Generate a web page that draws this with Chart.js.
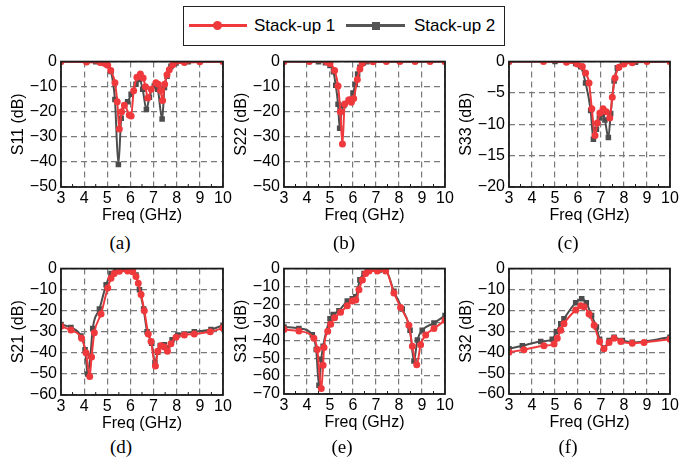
<!DOCTYPE html>
<html>
<head>
<meta charset="utf-8">
<script src="https://cdn.jsdelivr.net/npm/chart.js@4.4.1/dist/chart.umd.min.js"></script>
<style>
  body { margin: 0; width: 694px; height: 458px; background: #fff; position: relative; overflow: hidden; font-family: "Liberation Sans", Arial, sans-serif; }
  canvas { position: absolute; }
  .cap { position: absolute; font-family: "Liberation Serif", "Times New Roman", serif; font-size: 19px; line-height: 20px; transform: translateX(-50%); color: #000; }
  #legend { position: absolute; left: 183px; top: 6px; width: 322px; height: 40px; border: 1.5px solid #222; box-sizing: border-box; }
  #legend span { position: absolute; }
  #legend .ln { height: 3px; top: 17px; }
  #legend .txt { top: 0; line-height: 37px; font-size: 17px; color: #000; white-space: nowrap; }
</style>
</head>
<body>
<div id="legend">
  <span class="ln" style="left:5px;width:58px;background:#f0393c"></span>
  <span style="left:29px;top:14px;width:9px;height:9px;border-radius:50%;background:#f0393c"></span>
  <span class="txt" style="left:70px">Stack-up 1</span>
  <span class="ln" style="left:162px;width:59px;background:#555"></span>
  <span style="left:188px;top:14.5px;width:8px;height:8px;background:#555"></span>
  <span class="txt" style="left:230px">Stack-up 2</span>
</div>
<script>
// x axis (GHz) and y tick labels (dB)
const freqTicks = [3, 4, 5, 6, 7, 8, 9, 10];
const ticksS11 = [-50, -40, -30, -20, -10, 0];
const ticksS22 = [-50, -40, -30, -20, -10, 0];
const ticksS33 = [-20, -15, -10, -5, 0];
const ticksS21 = [-60, -50, -40, -30, -20, -10, 0];
const ticksS31 = [-70, -60, -50, -40, -30, -20, -10, 0];
const ticksS32 = [-60, -50, -40, -30, -20, -10, 0];

// [freq, dB]
const s11Stack1 = [[3,0],[4.1,-0.2],[4.7,-0.4],[4.9,-0.8],[5.02,-1.5],[5.15,-3.5],[5.33,-8.4],[5.43,-16],[5.52,-26.9],[5.62,-20],[5.74,-17.4],[5.95,-21.3],[6.03,-21.7],[6.14,-11.6],[6.28,-6.2],[6.43,-4.9],[6.55,-6.5],[6.65,-10],[6.75,-14.5],[6.9,-11],[7.1,-8.4],[7.2,-9],[7.3,-11.5],[7.39,-15.5],[7.48,-9],[7.58,-5.2],[7.68,-3.2],[7.83,-1.3],[8.33,-0.4],[9,-0.1],[10,0]];
const s11Stack2 = [[3,0],[4.5,-0.1],[4.85,-0.6],[5.0,-1.2],[5.16,-3.9],[5.33,-15.1],[5.48,-41],[5.6,-22.6],[5.74,-17.5],[5.88,-16],[6.03,-13],[6.24,-9],[6.39,-7.1],[6.53,-11],[6.69,-19.1],[6.82,-14.2],[7.03,-9.7],[7.18,-11],[7.37,-22.9],[7.47,-10.3],[7.58,-5.8],[7.75,-1.9],[7.97,-0.6],[8.5,-0.1],[10,0]];

const s22Stack1 = [[3,0],[4.1,0],[4.85,-0.1],[5.0,-0.8],[5.2,-3.5],[5.35,-9.7],[5.45,-20],[5.54,-32.9],[5.64,-16.9],[5.83,-15.2],[5.93,-16.2],[6.03,-14.7],[6.19,-7.1],[6.3,-3],[6.4,-0.8],[6.87,-0.1],[7.45,0],[8.04,0],[8.7,0],[9.35,0],[10,0]];
const s22Stack2 = [[3,0],[4.5,-0.1],[4.8,-0.5],[5.0,-1.5],[5.15,-4],[5.25,-9.4],[5.35,-17],[5.42,-26.6],[5.5,-20],[5.6,-17.5],[5.8,-15.5],[6.0,-12.5],[6.1,-9],[6.2,-5],[6.3,-2.3],[6.45,-0.5],[6.6,-0.1],[10,0]];

const s33Stack1 = [[3,0],[4.5,0],[5.5,-0.1],[5.97,-0.4],[6.19,-0.8],[6.33,-1.8],[6.48,-3.4],[6.6,-7.5],[6.74,-11.8],[6.84,-9.8],[6.95,-8.2],[7.09,-7.5],[7.23,-8],[7.38,-9],[7.49,-5.7],[7.61,-2.6],[7.78,-0.9],[8.0,-0.4],[8.36,-0.2],[9,0],[10,0]];
const s33Stack2 = [[3,0],[5,0],[5.9,-0.3],[6.12,-0.8],[6.33,-3.4],[6.55,-7.8],[6.67,-12.4],[6.8,-10.8],[6.93,-9],[7.06,-8.4],[7.17,-9.3],[7.32,-12.1],[7.42,-8.3],[7.57,-3.1],[7.71,-1],[7.93,-0.4],[8.5,-0.1],[10,0]];

const s21Stack1 = [[3,-27.4],[3.43,-29.2],[3.89,-33.1],[4.08,-40],[4.24,-51.2],[4.32,-42],[4.44,-30.5],[4.73,-21.5],[5.02,-9.2],[5.16,-4.6],[5.3,-2.3],[5.52,-1.2],[5.88,-1.1],[6.1,-1.5],[6.24,-3.8],[6.34,-6.9],[6.46,-12.3],[6.6,-20],[6.77,-31],[6.89,-34.6],[7.08,-46.2],[7.18,-39.2],[7.32,-36.6],[7.46,-37.2],[7.6,-39.2],[7.75,-35.7],[7.97,-32.6],[8.33,-31.5],[8.76,-31],[9.45,-30],[10,-28.2]];
const s21Stack2 = [[3,-26.5],[3.43,-28],[3.86,-32],[4.04,-38.5],[4.15,-50],[4.27,-41.5],[4.37,-28.5],[4.66,-19.2],[4.95,-7.7],[5.16,-2.3],[5.38,-0.8],[5.88,-0.6],[6.1,-1.2],[6.24,-3.1],[6.39,-10],[6.57,-19.2],[6.72,-30],[6.92,-35.4],[7.06,-44.6],[7.18,-39.7],[7.29,-36.5],[7.46,-36.2],[7.6,-37.7],[7.8,-33.8],[8.04,-31.5],[8.76,-30],[9.48,-28.9],[10,-26.9]];

const s31Stack1 = [[3,-34],[3.65,-34.9],[4.3,-38.9],[4.45,-45.2],[4.62,-66.9],[4.7,-54],[4.74,-44],[4.9,-35],[5.03,-31],[5.2,-27.5],[5.46,-24.4],[5.75,-20.8],[5.97,-18.1],[6.12,-17.5],[6.26,-11.8],[6.41,-6.3],[6.55,-2.7],[6.7,-1.4],[7.06,-1.4],[7.42,-1.4],[7.78,-13.6],[8.07,-21.7],[8.43,-31.6],[8.58,-43.4],[8.77,-53.7],[8.94,-42.5],[9.16,-37],[9.52,-33.5],[10,-28.9]];
const s31Stack2 = [[3,-32.6],[3.65,-33.4],[4.23,-37],[4.4,-45.2],[4.52,-65.1],[4.62,-50.6],[4.7,-43.4],[5,-28],[5.14,-25.7],[5.39,-23.5],[5.75,-18.1],[5.97,-16.8],[6.12,-15.7],[6.3,-6.3],[6.48,-2.7],[6.65,-0.9],[7.13,-0.9],[7.42,-1.1],[7.78,-12.7],[8.14,-22.6],[8.48,-34.4],[8.65,-51.6],[8.8,-39.8],[9.01,-34.4],[9.52,-30.4],[10,-26.2]];

const s32Stack1 = [[3,-40],[3.65,-38.8],[4.52,-36.9],[4.96,-36.1],[5.1,-33.3],[5.25,-29.5],[5.39,-26.4],[5.9,-19.8],[6.12,-17.8],[6.26,-18.3],[6.48,-21.7],[6.7,-27.1],[6.94,-34.9],[7.13,-38.4],[7.35,-35.3],[7.57,-33.3],[7.86,-34.9],[8.36,-35.7],[8.87,-35.3],[10,-33.8]];
const s32Stack2 = [[3,-38.4],[3.58,-36.9],[4.38,-34.9],[4.88,-33.8],[5.06,-30.2],[5.25,-26.4],[5.39,-24],[5.9,-16.3],[6.16,-14.4],[6.36,-16.3],[6.59,-22.5],[6.8,-27.9],[6.94,-33.8],[7.13,-38],[7.35,-34.4],[7.57,-32.9],[7.93,-34.4],[8.36,-35.3],[10,-32.9]];

const RED = '#f0393c';
const GRAY = '#4d4d4d';
const YW = 54, PT = 10, PR = 12, XH = 40;

// frame round the plot area plus small inward ticks on the freq axis
const framePlugin = {
  id: 'frame',
  afterDraw(chart) {
    const ctx = chart.ctx, a = chart.chartArea, xs = chart.scales.x;
    ctx.save();
    ctx.strokeStyle = '#1a1a1a';
    ctx.lineWidth = 1;
    for (let i = 0; i < freqTicks.length - 1; i++) {
      const mx = xs.getPixelForValue((freqTicks[i] + freqTicks[i + 1]) / 2);
      ctx.beginPath();
      ctx.moveTo(mx, a.bottom);
      ctx.lineTo(mx, a.bottom - 3);
      ctx.stroke();
    }
    ctx.lineWidth = 1.8;
    ctx.strokeRect(a.left, a.top, a.right - a.left, a.bottom - a.top);
    ctx.restore();
  }
};

function makePanel(box, yTicks, yTitle, stack1, stack2) {
  const [px, py, pw, ph] = box;
  const W = YW + pw + PR, H = PT + ph + XH;
  const cv = document.createElement('canvas');
  cv.width = W; cv.height = H;
  cv.style.left = (px - YW) + 'px';
  cv.style.top = (py - PT) + 'px';
  cv.style.width = W + 'px';
  cv.style.height = H + 'px';
  document.body.appendChild(cv);

  const axisFont = { family: '"Liberation Sans", Arial, sans-serif', size: 16 };
  new Chart(cv, {
    type: 'line',
    data: {
      datasets: [
        { label: 'Stack-up 1', data: stack1.map(p => ({ x: p[0], y: p[1] })), borderColor: RED, backgroundColor: RED,
          borderWidth: 2, pointStyle: 'circle', pointRadius: 2.5, cubicInterpolationMode: 'monotone' },
        { label: 'Stack-up 2', data: stack2.map(p => ({ x: p[0], y: p[1] })), borderColor: GRAY, backgroundColor: GRAY,
          borderWidth: 2, pointStyle: 'rect', pointRadius: 2.5, cubicInterpolationMode: 'monotone' }
      ]
    },
    options: {
      responsive: false,
      animation: false,
      devicePixelRatio: 1,
      layout: { padding: { top: PT, right: PR, left: 0, bottom: 0 } },
      plugins: { legend: { display: false }, tooltip: { enabled: false } },
      scales: {
        x: {
          type: 'linear', min: freqTicks[0], max: freqTicks[freqTicks.length - 1],
          afterBuildTicks: s => { s.ticks = freqTicks.map(v => ({ value: v })); },
          afterFit: s => { s.height = XH; },
          ticks: { font: axisFont, color: '#000', padding: 2, maxRotation: 0, autoSkip: false },
          grid: { color: '#7a7a7a', lineWidth: 1.2, drawTicks: false },
          border: { display: false, dash: [6, 4] },
          title: { display: true, text: 'Freq (GHz)', font: axisFont, color: '#000', padding: { top: 0, bottom: 2 } }
        },
        y: {
          min: yTicks[0], max: yTicks[yTicks.length - 1],
          afterBuildTicks: s => { s.ticks = yTicks.map(v => ({ value: v })); },
          afterFit: s => { s.width = YW; },
          ticks: { font: axisFont, color: '#000', padding: 4, autoSkip: false, callback: v => String(v).replace('-', '\u2212') },
          grid: { color: '#7a7a7a', lineWidth: 1.2, drawTicks: false },
          border: { display: false, dash: [6, 4] },
          title: { display: true, text: yTitle, font: axisFont, color: '#000', padding: { top: 2, bottom: 0 } }
        }
      }
    },
    plugins: [framePlugin]
  });
}

function caption(text, cx, top) {
  const d = document.createElement('div');
  d.className = 'cap';
  d.textContent = text;
  d.style.left = cx + 'px';
  d.style.top = top + 'px';
  document.body.appendChild(d);
}

makePanel([61, 58, 162, 129], ticksS11, 'S11 (dB)', s11Stack1, s11Stack2);
makePanel([284, 58, 161, 129], ticksS22, 'S22 (dB)', s22Stack1, s22Stack2);
makePanel([509, 58, 161, 129], ticksS33, 'S33 (dB)', s33Stack1, s33Stack2);
makePanel([61, 265, 162, 130], ticksS21, 'S21 (dB)', s21Stack1, s21Stack2);
makePanel([284, 265, 161, 129], ticksS31, 'S31 (dB)', s31Stack1, s31Stack2);
makePanel([509, 265, 161, 129], ticksS32, 'S32 (dB)', s32Stack1, s32Stack2);

caption('(a)', 120, 233);
caption('(b)', 344, 233);
caption('(c)', 568, 233);
caption('(d)', 121, 437);
caption('(e)', 342, 437);
caption('(f)', 568, 437);
</script>
</body>
</html>
